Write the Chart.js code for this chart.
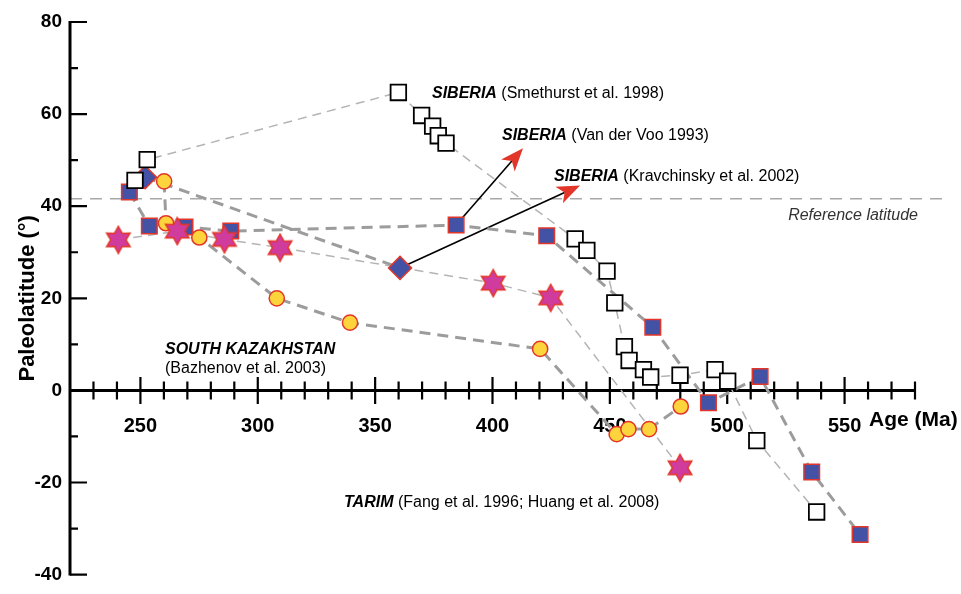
<!DOCTYPE html>
<html>
<head>
<meta charset="utf-8">
<script src="https://cdn.jsdelivr.net/npm/chart.js@4.4.1/dist/chart.umd.min.js"></script>
<style>
  html, body { margin: 0; padding: 0; background: #fff; }
  #wrap { width: 961px; height: 594px; }
</style>
</head>
<body>
<div id="wrap"><canvas id="chart"></canvas></div>
<script>
// Siberia (Smethurst et al. 1998) - open squares
const smethurstAge = [247.7, 252.9, 359.9, 369.8, 374.5, 376.9, 380.2, 435.2, 440.2, 448.8, 452.1, 456.2, 458.2, 464.3, 467.4, 479.9, 494.8, 500.2, 512.6, 538.1];
const smethurstLat = [45.6, 50.1, 64.7, 59.7, 57.4, 55.3, 53.7, 32.9, 30.4, 25.9, 19.0, 9.5, 6.5, 4.5, 2.9, 3.3, 4.5, 2.0, -10.9, -26.4];

// blue squares
const squareAge = [245.3, 253.8, 269.0, 288.5, 384.5, 423.1, 468.3, 492.0, 514.0, 536.0, 556.6];
const squareLat = [43.1, 35.7, 35.5, 34.6, 35.9, 33.6, 13.7, -2.7, 3.0, -17.7, -31.3];

// blue diamonds
const diamondAge = [252.0, 360.6];
const diamondLat = [46.3, 26.6];

// yellow circles
const circleAge = [260.1, 260.9, 275.1, 308.1, 339.3, 420.3, 452.9, 457.9, 466.7, 480.2];
const circleLat = [45.4, 36.3, 33.2, 20.0, 14.7, 9.0, -9.5, -8.4, -8.4, -3.5];

// magenta stars
const starAge = [240.6, 265.7, 285.8, 309.5, 400.3, 424.8, 479.9];
const starLat = [32.7, 34.6, 32.8, 31.0, 23.3, 20.1, -16.8];

const refLat = 41.6;

// arrows [fromAge, fromLat, toAge, toLat]
const arrowVanDerVoo = [384.5, 35.9, 413.0, 52.6];
const arrowKravchinsky = [360.6, 26.6, 437.3, 44.5];

const xTicks = [250, 300, 350, 400, 450, 500, 550];
const yTicks = [-40, -20, 0, 20, 40, 60, 80];

const RED = '#e2362a';
const FONT = "'Liberation Sans', Arial, Helvetica, sans-serif";

const pts = (xs, ys) => xs.map((v, i) => ({ x: v, y: ys[i] }));

// six pointed star marker
const starImg = (() => {
    const c = document.createElement('canvas');
    c.width = 30; c.height = 30;
    const g = c.getContext('2d');
    g.beginPath();
    for (let i = 0; i < 12; i++) {
        const r = i % 2 === 0 ? 13.5 : 7.6;
        const a = -Math.PI / 2 + i * Math.PI / 6;
        const px = 15 + r * Math.cos(a), py = 15 + r * Math.sin(a);
        if (i === 0) g.moveTo(px, py); else g.lineTo(px, py);
    }
    g.closePath();
    g.fillStyle = '#d03c9e';
    g.fill();
    g.lineWidth = 1.5;
    g.strokeStyle = RED;
    g.stroke();
    return c;
})();

const thickLine = { borderColor: '#9c9c9c', borderWidth: 3, borderDash: [11, 7] };
const thinLine = { borderColor: '#b4b4b4', borderWidth: 1.5, borderDash: [9, 6] };

const lineSet = (xs, ys, style) => ({
    data: pts(xs, ys),
    showLine: true,
    pointRadius: 0,
    pointHoverRadius: 0,
    fill: false,
    order: 10,
    ...style,
});

const pointSet = (xs, ys, style, order) => ({
    data: pts(xs, ys),
    showLine: false,
    order: order,
    pointBorderWidth: 1.5,
    ...style,
});

const drawArrow = (ctx, x, y, a) => {
    const x1 = x.getPixelForValue(a[0]), y1 = y.getPixelForValue(a[1]);
    const x2 = x.getPixelForValue(a[2]), y2 = y.getPixelForValue(a[3]);
    const ang = Math.atan2(y2 - y1, x2 - x1);
    const len = 23, half = 9;
    const bx = x2 - len * Math.cos(ang), by = y2 - len * Math.sin(ang);
    ctx.strokeStyle = '#000';
    ctx.lineWidth = 1.6;
    ctx.beginPath();
    ctx.moveTo(x1, y1);
    ctx.lineTo(bx + 6 * Math.cos(ang), by + 6 * Math.sin(ang));
    ctx.stroke();
    ctx.fillStyle = RED;
    ctx.beginPath();
    ctx.moveTo(x2, y2);
    ctx.lineTo(bx - half * Math.sin(ang), by + half * Math.cos(ang));
    ctx.lineTo(bx + 6 * Math.cos(ang), by + 6 * Math.sin(ang));
    ctx.lineTo(bx + half * Math.sin(ang), by - half * Math.cos(ang));
    ctx.closePath();
    ctx.fill();
};

const label = (ctx, x, y, bold, rest, size) => {
    ctx.font = 'italic bold ' + size + 'px ' + FONT;
    ctx.fillText(bold, x, y);
    const w = ctx.measureText(bold).width;
    if (rest) {
        ctx.font = size + 'px ' + FONT;
        ctx.fillText(rest, x + w, y);
    }
};

const decor = {
    id: 'decor',
    beforeDatasetsDraw(chart) {
        const { ctx, chartArea: a, scales: { x, y } } = chart;
        ctx.save();
        // reference latitude
        const ry = y.getPixelForValue(refLat);
        ctx.strokeStyle = '#a8a8a8';
        ctx.lineWidth = 1.5;
        ctx.setLineDash([12, 8]);
        ctx.beginPath();
        ctx.moveTo(a.left, ry);
        ctx.lineTo(946, ry);
        ctx.stroke();
        ctx.setLineDash([]);

        // axes
        const y0 = y.getPixelForValue(0);
        ctx.strokeStyle = '#000';
        ctx.lineWidth = 3;
        ctx.beginPath();
        ctx.moveTo(a.left, a.top - 1);
        ctx.lineTo(a.left, a.bottom + 1);
        ctx.moveTo(a.left, y0);
        ctx.lineTo(a.right, y0);
        ctx.stroke();
        ctx.lineWidth = 2.2;
        ctx.beginPath();
        for (let v = -40; v <= 80; v += 10) {
            if (v === 0) continue;
            const py = y.getPixelForValue(v);
            ctx.moveTo(a.left, py);
            ctx.lineTo(a.left + (v % 20 === 0 ? 17 : 8), py);
        }
        for (let v = 230; v <= 580; v += 10) {
            const px = x.getPixelForValue(v);
            const h = v % 50 === 0 ? 13.5 : 9;
            ctx.moveTo(px, y0 - h);
            ctx.lineTo(px, y0 + h);
        }
        ctx.stroke();

        drawArrow(ctx, x, y, arrowVanDerVoo);
        drawArrow(ctx, x, y, arrowKravchinsky);
        ctx.restore();
    },
    afterDraw(chart) {
        const { ctx } = chart;
        ctx.save();
        ctx.fillStyle = '#000';
        ctx.textBaseline = 'alphabetic';
        ctx.textAlign = 'left';
        label(ctx, 432, 98, 'SIBERIA', ' (Smethurst et al. 1998)', 16);
        label(ctx, 502, 140, 'SIBERIA', ' (Van der Voo 1993)', 16);
        label(ctx, 554, 181, 'SIBERIA', ' (Kravchinsky et al. 2002)', 16);
        label(ctx, 165, 354, 'SOUTH KAZAKHSTAN', '', 16);
        ctx.font = '16px ' + FONT;
        ctx.fillText('(Bazhenov et al. 2003)', 165, 373);
        label(ctx, 344, 507, 'TARIM', ' (Fang et al. 1996; Huang et al. 2008)', 16);

        ctx.font = 'bold 21px ' + FONT;
        ctx.fillText('Age (Ma)', 869, 426);

        ctx.fillStyle = '#333';
        ctx.font = 'italic 16px ' + FONT;
        ctx.textAlign = 'right';
        ctx.fillText('Reference latitude', 918, 220);
        ctx.restore();
    }
};

new Chart(document.getElementById('chart'), {
    type: 'scatter',
    data: {
        datasets: [
            pointSet(smethurstAge, smethurstLat, { pointStyle: 'rect', pointRadius: 11, pointBackgroundColor: '#fff', pointBorderColor: '#000', pointBorderWidth: 1.8 }, 1),
            pointSet(starAge, starLat, { pointStyle: starImg, pointRadius: 13 }, 2),
            pointSet(circleAge, circleLat, { pointStyle: 'circle', pointRadius: 7.6, pointBackgroundColor: '#fdd43c', pointBorderColor: RED }, 3),
            pointSet(diamondAge, diamondLat, { pointStyle: 'rectRot', pointRadius: 11.5, pointBackgroundColor: '#4452a6', pointBorderColor: RED }, 4),
            pointSet(squareAge, squareLat, { pointStyle: 'rect', pointRadius: 11, pointBackgroundColor: '#4452a6', pointBorderColor: RED }, 5),
            lineSet(smethurstAge, smethurstLat, thinLine),
            lineSet(starAge, starLat, thinLine),
            lineSet(circleAge, circleLat, thickLine),
            lineSet(diamondAge, diamondLat, thickLine),
            lineSet(squareAge, squareLat, thickLine),
        ],
    },
    options: {
        responsive: true,
        maintainAspectRatio: false,
        animation: false,
        events: [],
        layout: { padding: { top: 22, right: 46, bottom: 14, left: 0 } },
        plugins: { legend: { display: false }, tooltip: { enabled: false } },
        scales: {
            x: {
                type: 'linear',
                min: 220,
                max: 580,
                position: { y: 0 },
                afterBuildTicks: (s) => { s.ticks = xTicks.map(v => ({ value: v })); },
                afterFit: (s) => { s.height = 0; },
                grid: { display: false, drawTicks: false },
                border: { display: false },
                ticks: {
                    autoSkip: false,
                    maxRotation: 0,
                    padding: 24,
                    color: '#000',
                    font: { family: FONT, size: 20, weight: 'bold' },
                },
            },
            y: {
                type: 'linear',
                min: -40,
                max: 80,
                afterBuildTicks: (s) => { s.ticks = yTicks.map(v => ({ value: v })); },
                afterFit: (s) => { s.width = 70; },
                grid: { display: false, drawTicks: false },
                border: { display: false },
                ticks: {
                    padding: 8,
                    color: '#000',
                    font: { family: FONT, size: 19, weight: 'bold' },
                },
                title: {
                    display: true,
                    text: 'Paleolatitude (°)',
                    color: '#000',
                    font: { family: FONT, size: 22, weight: 'bold' },
                    padding: { top: 15, bottom: 0 },
                },
            },
        },
    },
    plugins: [decor],
});
</script>
</body>
</html>
